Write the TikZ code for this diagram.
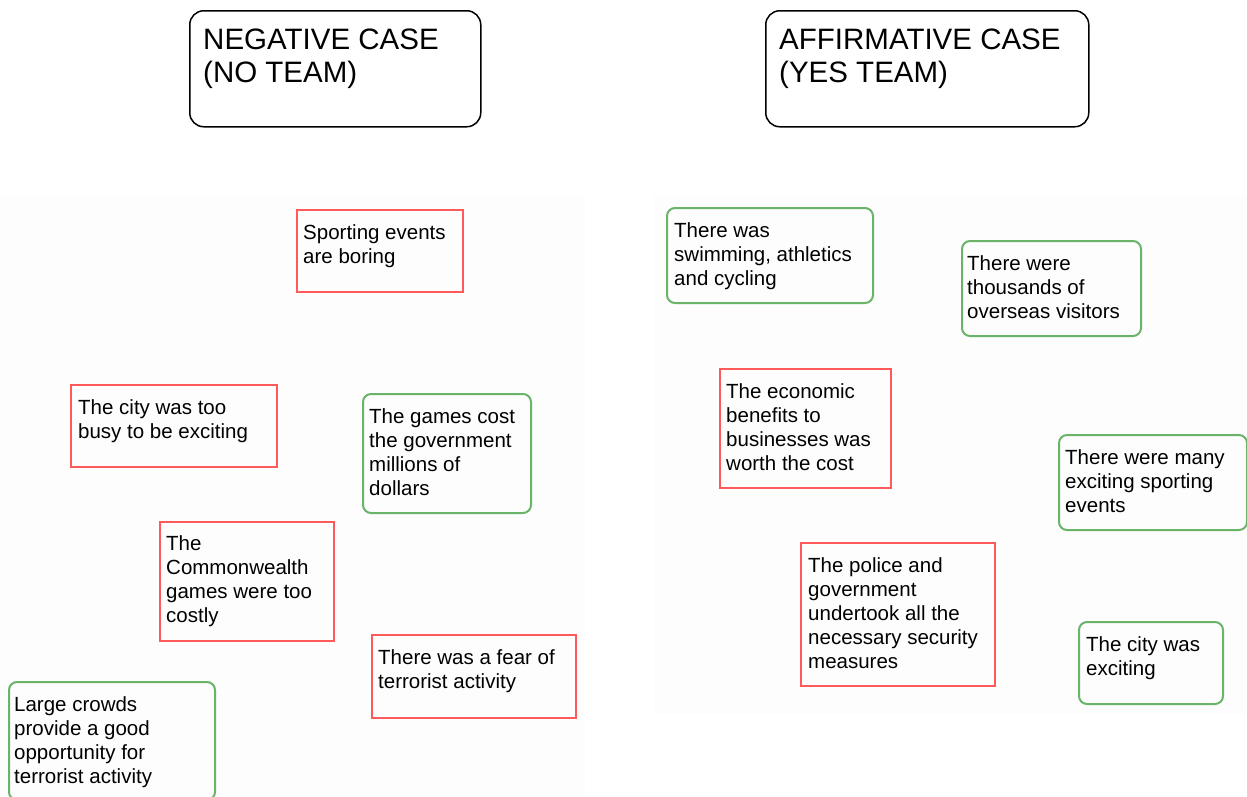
\documentclass[tikz,border=0pt]{standalone}
\usepackage{fontspec}
\setmainfont{Liberation Sans}
\definecolor{negred}{HTML}{FF5A5A}
\definecolor{posgreen}{HTML}{6AB46A}
\definecolor{paper}{HTML}{FDFDFD}
\begin{document}
\begin{tikzpicture}[x=1pt,y=-1pt,
  card/.style={draw, line width=2pt, inner sep=0pt, anchor=north west},
  negbox/.style={card, draw=negred},
  posbox/.style={card, draw=posgreen, rounded corners=8pt},
  headbox/.style={draw=black, line width=1.5pt, rounded corners=14pt, inner sep=0pt, anchor=north west},
  body/.style={anchor=north west, inner sep=0pt, align=left, font=\fontsize{20.5}{24}\selectfont},
  headtxt/.style={anchor=north west, inner sep=0pt, align=left, font=\fontsize{29.5}{33}\selectfont}]
\useasboundingbox (0,0) rectangle (1247,796);
% faint sheets behind each side
\fill[paper] (0,195) rectangle (585,796);
\fill[paper] (654,195) rectangle (1247,714);

% headings
\node[headbox, minimum width=291, minimum height=116] (hneg) at (189,10) {};
\node[headtxt] (hnegt) at (203,29) {NEGATIVE CASE\\(NO TEAM)};
\node[headbox, minimum width=323, minimum height=116] (haff) at (765,10) {};
\node[headtxt] (hafft) at (779,29) {AFFIRMATIVE CASE\\(YES TEAM)};

% negative side
\node[negbox, minimum width=166, minimum height=82] (n1) at (296,209) {};
\node[body] (n1t) at (303,224) {Sporting events\\are boring};
\node[negbox, minimum width=206, minimum height=82] (n2) at (70,384) {};
\node[body] (n2t) at (78,399) {The city was too\\busy to be exciting};
\node[posbox, minimum width=168, minimum height=119] (n3) at (362,393) {};
\node[body] (n3t) at (369,408) {The games cost\\the government\\millions of\\dollars};
\node[negbox, minimum width=174, minimum height=119] (n4) at (159,521) {};
\node[body] (n4t) at (166,535) {The\\Commonwealth\\games were too\\costly};
\node[negbox, minimum width=204, minimum height=83] (n5) at (371,634) {};
\node[body] (n5t) at (378,649) {There was a fear of\\terrorist activity};
\node[posbox, minimum width=206, minimum height=118] (n6) at (8,681) {};
\node[body] (n6t) at (14,696) {Large crowds\\provide a good\\opportunity for\\terrorist activity};

% affirmative side
\node[posbox, minimum width=206, minimum height=95] (a1) at (666,207) {};
\node[body] (a1t) at (674,222) {There was\\swimming, athletics\\and cycling};
\node[posbox, minimum width=179, minimum height=95] (a2) at (961,240) {};
\node[body] (a2t) at (967,255) {There were\\thousands of\\overseas visitors};
\node[negbox, minimum width=171, minimum height=119] (a3) at (719,368) {};
\node[body] (a3t) at (726,383) {The economic\\benefits to\\businesses was\\worth the cost};
\node[posbox, minimum width=188, minimum height=95] (a4) at (1058,434) {};
\node[body] (a4t) at (1065,449) {There were many\\exciting sporting\\events};
\node[negbox, minimum width=194, minimum height=143] (a5) at (800,542) {};
\node[body] (a5t) at (808,557) {The police and\\government\\undertook all the\\necessary security\\measures};
\node[posbox, minimum width=144, minimum height=82] (a6) at (1078,621) {};
\node[body] (a6t) at (1086,636) {The city was\\exciting};
\end{tikzpicture}
\end{document}
